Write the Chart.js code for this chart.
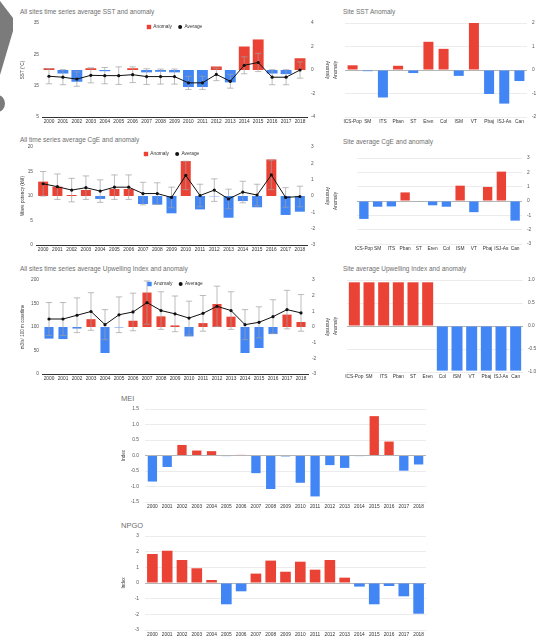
<!DOCTYPE html>
<html>
<head>
<meta charset="utf-8">
<script src="https://cdn.jsdelivr.net/npm/chart.js@4.4.0/dist/chart.umd.min.js"></script>
<style>
  body { margin: 0; background: #fff; width: 543px; height: 641px; position: relative; overflow: hidden; font-family: "Liberation Sans", Arial, sans-serif; }
  canvas { position: absolute; }
  .ttl { position: absolute; font-size: 6.5px; color: #6f6f6f; white-space: nowrap; line-height: 1; }
  .big { font-size: 7.5px; }
  .deco { position: absolute; background: #7b7b7b; }
</style>
</head>
<body>
<div class="deco" style="left:0;top:0;width:13px;height:80px;clip-path:polygon(0 1px,13px 18px,13px 31px,0 75px)"></div>
<div class="deco" style="left:-10px;top:95px;width:15px;height:17px;border-radius:50%"></div>

<div class="ttl" style="left:20px;top:9px">All sites time series average SST and anomaly</div>
<div class="ttl" style="left:343px;top:9px">Site SST Anomaly</div>
<div class="ttl" style="left:20px;top:137px">All time series average CgE and anomaly</div>
<div class="ttl" style="left:343px;top:139px">Site average CgE and anomaly</div>
<div class="ttl" style="left:20px;top:266px">All sites time series average Upwelling Index and anomaly</div>
<div class="ttl" style="left:343px;top:266px">Site average Upwelling Index and anomaly</div>
<div class="ttl big" style="left:121px;top:395px">MEI</div>
<div class="ttl big" style="left:121px;top:522px">NPGO</div>

<canvas id="sstTs" width="330" height="126" style="left:0;top:0"></canvas>
<canvas id="sstSite" width="223" height="126" style="left:320px;top:0"></canvas>
<canvas id="cgeTs" width="330" height="126" style="left:0;top:130px"></canvas>
<canvas id="cgeSite" width="223" height="126" style="left:320px;top:130px"></canvas>
<canvas id="upwTs" width="330" height="126" style="left:0;top:258px"></canvas>
<canvas id="upwSite" width="223" height="126" style="left:320px;top:258px"></canvas>
<canvas id="mei" width="330" height="127" style="left:110px;top:385px"></canvas>
<canvas id="npgo" width="330" height="131" style="left:110px;top:510px"></canvas>

<script>
const years = ['2000', '2001', '2002', '2003', '2004', '2005', '2006', '2007', '2008', '2009',
  '2010', '2011', '2012', '2013', '2014', '2015', '2016', '2017', '2018'];
const sites = ['ICS-Pop', 'SM', 'ITS', 'Pban', 'ST', 'Eren', 'Col', 'ISM', 'VT', 'Pbaj', 'ISJ-As', 'Can'];

// SST
const sstAnomaly = [0.15, -0.3, -1.0, 0.15, -0.1, 0, 0.15, -0.2, -0.15, -0.2, -1.45, -1.45, 0.3, -1.05, 2.0, 2.6, -0.3, -0.35, 1.0];
const sstAverage = [18.0, 17.7, 17.1, 18.3, 18.2, 18.2, 18.5, 17.9, 17.9, 17.9, 15.9, 15.9, 18.6, 16.4, 21.5, 22.4, 17.7, 17.7, 20.0];
const sstError = [2.4, 2.4, 2.3, 2.4, 2.6, 2.8, 2.5, 2.5, 2.4, 2.4, 2.1, 2.1, 2.0, 2.2, 2.7, 2.9, 2.4, 2.4, 2.6];
const siteSstAnomaly = [0.2, -0.05, -1.17, 0.18, -0.13, 1.2, 0.9, -0.25, 2.0, -1.02, -1.43, -0.47];

// CgE
const cgeAnomaly = [0.88, 0.57, 0.06, 0.37, -0.18, 0.43, 0.43, -0.49, -0.53, -1.06, 2.14, -0.82, -0.02, -1.33, -0.31, -0.69, 2.24, -1.16, -0.96];
const cgeAverage = [12.5, 11.9, 11.2, 11.7, 11.0, 11.8, 11.8, 10.5, 10.5, 9.7, 14.2, 10.1, 11.2, 9.4, 10.8, 10.2, 14.3, 9.7, 9.9];
const cgeError = [2.5, 2.6, 2.4, 2.4, 2.3, 2.5, 2.5, 2.3, 2.2, 2.1, 2.9, 2.3, 2.3, 2.0, 2.2, 2.2, 3.0, 2.0, 2.1];
const siteCgeAnomaly = [-1.25, -0.4, -0.38, 0.6, -0.03, -0.3, -0.4, 1.07, -0.78, 0.98, 2.05, -1.37];

// Upwelling
const upwAnomaly = [-0.74, -0.77, -0.1, 0.5, -1.66, -0.03, 0.4, 2.2, 0.68, 0.1, -0.6, 0.25, 1.47, 0.66, -1.66, -1.34, -0.45, 0.79, 0.32];
const upwAverage = [117, 117, 125, 133, 105, 126, 132, 152, 135, 128, 119, 129, 144, 135, 105, 110, 122, 137, 130];
const upwError = [35, 35, 37, 40, 32, 38, 40, 46, 40, 38, 36, 38, 43, 40, 32, 33, 36, 41, 39];
const siteUpwAnomaly = [0.95, 0.95, 0.95, 0.95, 0.95, 0.95, -0.97, -0.97, -0.97, -0.97, -0.97, -0.97];

// climate indices
const meiIndex = [-0.84, -0.37, 0.34, 0.16, 0.14, -0.02, 0.02, -0.57, -1.08, -0.03, -0.88, -1.32, -0.31, -0.4, -0.02, 1.27, 0.45, -0.49, -0.29];
const npgoIndex = [1.85, 2.06, 1.47, 0.94, 0.19, -1.36, -0.53, 0.6, 1.43, 0.72, 1.36, 0.85, 1.47, 0.34, -0.23, -1.36, -0.19, -0.85, -1.96];

const RED = '#ea4335';
const BLUE = '#4285f4';
const FONT = 'Liberation Sans';
const barColors = vals => vals.map(v => v >= 0 ? RED : BLUE);
const tickFont = { family: FONT, size: 4.8 };
const titleFont = { family: FONT, size: 4.6 };

// grey whiskers around the average line (drawn right after the bars)
function errorBars(errors) {
  return {
    id: 'errorBars',
    afterDatasetDraw(chart, args) {
      if (args.index !== 0) return;
      const meta = chart.getDatasetMeta(1);
      const avg = chart.data.datasets[1].data;
      const ys = chart.scales.y;
      const ctx = chart.ctx;
      ctx.save();
      ctx.strokeStyle = '#a0a0a0';
      ctx.lineWidth = 0.7;
      meta.data.forEach((pt, i) => {
        const top = ys.getPixelForValue(avg[i] + errors[i]);
        const bot = ys.getPixelForValue(avg[i] - errors[i]);
        ctx.beginPath();
        ctx.moveTo(pt.x, top); ctx.lineTo(pt.x, bot);
        ctx.moveTo(pt.x - 3.2, top); ctx.lineTo(pt.x + 3.2, top);
        ctx.moveTo(pt.x - 3.2, bot); ctx.lineTo(pt.x + 3.2, bot);
        ctx.stroke();
      });
      ctx.restore();
    }
  };
}

// horizontal legend inside the top of the plot, like the original
function inlineLegend(dy) {
  return {
    id: 'inlineLegend',
    afterDraw(chart) {
      const { ctx, chartArea } = chart;
      const ds = chart.data.datasets;
      ctx.save();
      ctx.font = '4.8px "' + FONT + '"';
      ctx.textBaseline = 'middle';
      const items = ds.map((d, i) => ({
        text: d.label,
        color: i === 0 ? d.backgroundColor[0] : d.borderColor,
        rect: i === 0
      }));
      const widths = items.map(it => 6.5 + ctx.measureText(it.text).width);
      const total = widths.reduce((a, b) => a + b, 0) + 6 * (items.length - 1);
      let x = (chartArea.left + chartArea.right) / 2 - total / 2;
      const y = chartArea.top + dy;
      items.forEach((it, i) => {
        ctx.fillStyle = it.color;
        if (it.rect) ctx.fillRect(x, y - 2.2, 4.4, 4.4);
        else { ctx.beginPath(); ctx.arc(x + 2.2, y, 2, 0, Math.PI * 2); ctx.fill(); }
        ctx.fillStyle = '#333';
        ctx.fillText(it.text, x + 6.5, y);
        x += widths[i] + 6;
      });
      ctx.restore();
    }
  };
}

function tsChart(id, anomaly, average, error, c) {
  new Chart(document.getElementById(id), {
    type: 'bar',
    data: {
      labels: years,
      datasets: [
        { label: 'Anomaly', data: anomaly, yAxisID: 'y1', backgroundColor: barColors(anomaly),
          barPercentage: c.barPct, categoryPercentage: 1, order: 2 },
        { type: 'line', label: 'Average', data: average, yAxisID: 'y', borderColor: '#111',
          backgroundColor: '#111', borderWidth: 1, pointRadius: 1.6, pointBorderWidth: 0,
          pointBackgroundColor: '#111', order: 1 }
      ]
    },
    options: {
      responsive: false,
      animation: false,
      layout: { padding: { left: 20, top: c.top, right: 0, bottom: 0 } },
      plugins: { tooltip: { enabled: false }, legend: { display: false } },
      scales: {
        x: {
          grid: { display: false, drawTicks: false },
          border: { color: '#333', width: 1 },
          ticks: { font: tickFont, color: '#333', padding: 2, autoSkip: false, maxRotation: 0 },
          afterFit: s => { s.height = c.xh; }
        },
        y: {
          position: 'left', min: c.yMin, max: c.yMax,
          grid: { display: false, drawTicks: false }, border: { display: false },
          ticks: { count: c.yCount, font: tickFont, color: '#555', padding: 3 },
          title: { display: true, text: c.yTitle, font: titleFont, color: '#333', padding: 0 },
          afterFit: s => { s.width = c.lw; }
        },
        y1: {
          position: 'right', min: c.aMin, max: c.aMax,
          grid: { display: false, drawTicks: false }, border: { display: false },
          ticks: { count: c.aCount, font: tickFont, color: '#555', padding: 4 },
          title: { display: true, text: 'Anomaly', font: titleFont, color: '#333', padding: 0 },
          afterFit: s => { s.width = c.rw; }
        }
      }
    },
    plugins: [errorBars(error), inlineLegend(c.legY)]
  });
}

function barChart(id, labels, values, c) {
  const right = c.side === 'right';
  const gridColor = ctx => ctx.tick && ctx.tick.value === 0 ? '#b5b5b5' : '#ececec';
  new Chart(document.getElementById(id), {
    type: 'bar',
    data: {
      labels: labels,
      datasets: [{ data: values, yAxisID: right ? 'yr' : 'yl',
        backgroundColor: barColors(values), barPercentage: c.barPct, categoryPercentage: 1 }]
    },
    options: {
      responsive: false,
      animation: false,
      layout: { padding: { left: c.pl, top: c.top, right: c.pr, bottom: 0 } },
      plugins: { legend: { display: false }, tooltip: { enabled: false } },
      scales: {
        x: {
          grid: { display: false, drawTicks: false }, border: { display: false },
          ticks: { font: tickFont, color: '#333', padding: 2, autoSkip: false, maxRotation: 0 },
          afterFit: s => { s.height = c.xh; }
        },
        yl: {
          position: 'left', min: c.min, max: c.max,
          grid: { display: !right, drawTicks: false, color: gridColor },
          border: { display: false },
          ticks: { display: !right, count: c.count, font: tickFont, color: '#555', padding: 6,
            callback: v => c.fixed ? v.toFixed(1) : v },
          title: { display: true, text: c.yTitle, font: titleFont, color: '#333', padding: 0 },
          afterFit: s => { s.width = c.lw; }
        },
        yr: {
          display: right,
          position: 'right', min: c.min, max: c.max,
          grid: { drawTicks: false, color: gridColor },
          border: { display: false },
          ticks: { count: c.count, font: tickFont, color: '#555', padding: 5,
            callback: v => c.fixed ? v.toFixed(1) : v },
          afterFit: s => { s.width = c.rw; }
        }
      }
    }
  });
}

tsChart('sstTs', sstAnomaly, sstAverage, sstError, {
  barPct: 0.78, top: 23, xh: 9, lw: 22, rw: 23, legY: 4,
  yMin: 5, yMax: 35, yCount: 4, yTitle: 'SST (°C)', aMin: -4, aMax: 4, aCount: 5
});
tsChart('cgeTs', cgeAnomaly, cgeAverage, cgeError, {
  barPct: 0.7, top: 17, xh: 11, lw: 16, rw: 23, legY: 7,
  yMin: 0, yMax: 20, yCount: 5, yTitle: 'Wave potency (kW)', aMin: -3, aMax: 3, aCount: 7
});
tsChart('upwTs', upwAnomaly, upwAverage, upwError, {
  barPct: 0.65, top: 22, xh: 10, lw: 22, rw: 22, legY: 4,
  yMin: 0, yMax: 200, yCount: 5, yTitle: 'm3/s/ 100 m coastline', aMin: -3, aMax: 3, aCount: 7
});

barChart('sstSite', sites, siteSstAnomaly, {
  side: 'right', barPct: 0.66, pl: 13, pr: 0, top: 23, xh: 9, lw: 12, rw: 16,
  min: -2, max: 2, count: 5, yTitle: 'Anomaly'
});
barChart('cgeSite', sites, siteCgeAnomaly, {
  side: 'right', barPct: 0.68, pl: 13, pr: 0, top: 28, xh: 12, lw: 24, rw: 21,
  min: -3, max: 3, count: 7, yTitle: 'Anomaly'
});
barChart('upwSite', sites, siteUpwAnomaly, {
  side: 'right', barPct: 0.75, pl: 13, pr: 0, top: 22, xh: 12, lw: 14, rw: 20,
  min: -1, max: 1, count: 5, fixed: true, yTitle: 'Anomaly'
});

barChart('mei', years, meiIndex, {
  side: 'left', barPct: 0.63, pl: 11, pr: 14, top: 24, xh: 10, lw: 24, rw: 0,
  min: -1.5, max: 1.5, count: 7, fixed: true, yTitle: 'Index'
});
barChart('npgo', years, npgoIndex, {
  side: 'left', barPct: 0.72, pl: 11, pr: 14, top: 26, xh: 11, lw: 24, rw: 0,
  min: -3, max: 3, count: 7, yTitle: 'Index'
});
</script>
</body>
</html>
